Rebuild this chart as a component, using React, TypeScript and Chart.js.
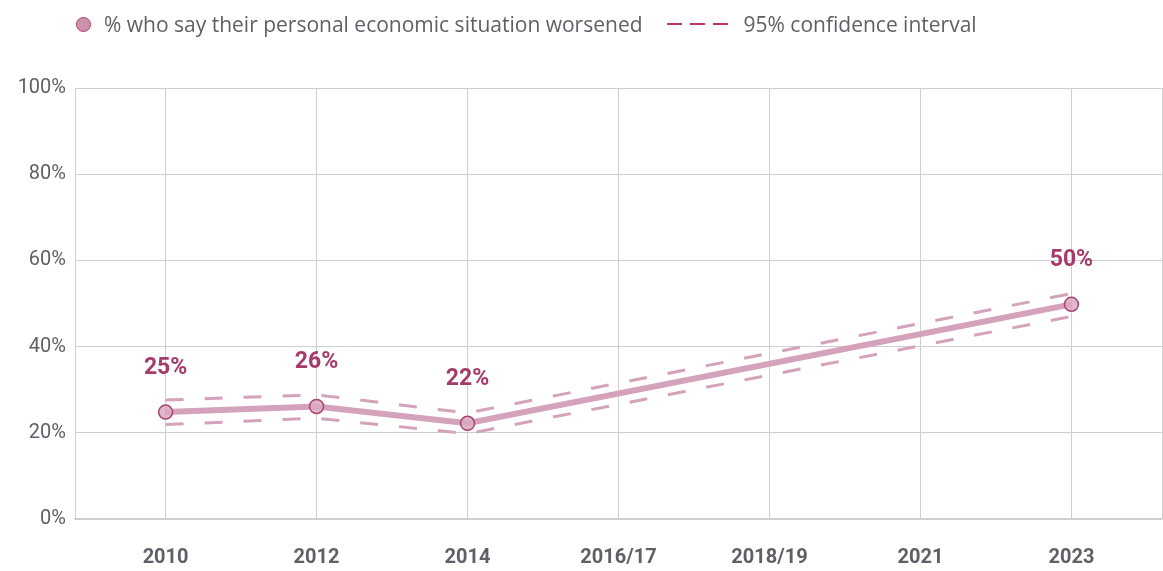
import React, { useEffect, useRef } from "react";
import { Chart, registerables } from "chart.js";

Chart.register(...registerables);

const categories = ["2010", "2012", "2014", "2016/17", "2018/19", "2021", "2023"];
const worsened: (number | null)[] = [24.8, 26.1, 22.2, null, null, null, 49.8];
const ciUpper: (number | null)[] = [27.6, 28.8, 24.6, null, null, null, 52.3];
const ciLower: (number | null)[] = [21.9, 23.4, 19.8, null, null, null, 47.0];
const yTicks = [0, 20, 40, 60, 80, 100];

const LINE = "#d4a2ba";
const DARK = "#a8436f";
const LABEL = "#a63c6b";
const GREY = "#5f5f68";
const GRID = "#cfcfd3";

const toPoints = (arr: (number | null)[]) => arr.map((v, i) => ({ x: i, y: v }));

const valueLabels = {
  id: "valueLabels",
  afterDatasetsDraw(chart: any) {
    const meta = chart.getDatasetMeta(0);
    const ctx = chart.ctx;
    ctx.save();
    ctx.font = "bold 23px Roboto";
    ctx.fillStyle = LABEL;
    ctx.textAlign = "center";
    ctx.textBaseline = "middle";
    meta.data.forEach((el: any, i: number) => {
      const v = worsened[i];
      if (v === null || el.skip) return;
      ctx.fillText(Math.round(v) + "%", el.x, el.y - 44);
    });
    ctx.restore();
  },
};

export default function App() {
  const ref = useRef<HTMLCanvasElement>(null);
  useEffect(() => {
    if (!ref.current) return;
    const chart = new Chart(ref.current, {
      type: "line",
      data: {
        datasets: [
          {
            label: "% who say their personal economic situation worsened",
            data: toPoints(worsened),
            borderColor: LINE,
            borderWidth: 6,
            spanGaps: true,
            pointRadius: 7,
            pointBackgroundColor: "rgba(218,170,194,0.85)",
            pointBorderColor: DARK,
            pointBorderWidth: 1.5,
            tension: 0,
          },
          {
            label: "95% confidence interval (upper)",
            data: toPoints(ciUpper),
            borderColor: LINE,
            borderWidth: 3,
            borderDash: [18, 21],
            spanGaps: true,
            pointRadius: 0,
            tension: 0,
          },
          {
            label: "95% confidence interval (lower)",
            data: toPoints(ciLower),
            borderColor: LINE,
            borderWidth: 3,
            borderDash: [18, 21],
            spanGaps: true,
            pointRadius: 0,
            tension: 0,
          },
        ],
      },
      options: {
        animation: false,
        responsive: false,
        layout: { autoPadding: false, padding: { top: 88, right: 1, left: 0, bottom: 0 } },
        plugins: { legend: { display: false }, tooltip: { enabled: false } },
        scales: {
          x: {
            type: "linear",
            min: -0.6,
            max: 6.6,
            afterBuildTicks: (scale: any) => {
              scale.ticks = [...categories.map((_, i) => ({ value: i })), { value: 6.6 }];
            },
            afterFit: (scale: any) => {
              scale.height = 52;
              scale.paddingLeft = 0;
              scale.paddingRight = 0;
            },
            grid: { color: GRID, lineWidth: 1, drawTicks: false },
            border: { color: GRID, width: 1.5 },
            ticks: {
              autoSkip: false,
              maxRotation: 0,
              padding: 27,
              color: GREY,
              font: { family: "Roboto", size: 20, weight: "bold" },
              callback: (v: any) => {
                const i = Number(v);
                return Number.isInteger(i) && categories[i] !== undefined ? categories[i] : "";
              },
            },
          },
          y: {
            min: 0,
            max: 100,
            afterBuildTicks: (scale: any) => {
              scale.ticks = yTicks.map((v) => ({ value: v }));
            },
            afterFit: (scale: any) => {
              scale.width = 75;
            },
            grid: { color: GRID, lineWidth: 1, drawTicks: false },
            border: { color: GRID, width: 1 },
            ticks: {
              padding: 9,
              color: GREY,
              font: { family: "Roboto", size: 20 },
              callback: (v: any) => v + "%",
            },
          },
        },
      },
      plugins: [valueLabels],
    } as any);
    return () => chart.destroy();
  }, []);

  const dash = { display: "inline-block", width: 15, height: 0, borderTop: `2px solid #c2306a`, marginRight: 8 } as React.CSSProperties;

  return (
    <div style={{ position: "absolute", top: 0, left: 0, width: 1163, height: 571, background: "#fff" }}>
      <canvas ref={ref} width={1163} height={571} style={{ position: "absolute", top: 0, left: 0 }} />
      <div
        style={{
          position: "absolute",
          top: 11,
          left: 76,
          height: 26,
          display: "flex",
          alignItems: "center",
          fontFamily: "'Open Sans'",
          fontSize: 21,
          color: GREY,
          whiteSpace: "nowrap",
        }}
      >
        <span
          style={{
            display: "inline-block",
            width: 13,
            height: 13,
            borderRadius: "50%",
            background: "#cf92ae",
            border: `1.5px solid ${DARK}`,
            marginRight: 13,
          }}
        />
        <span>% who say their personal economic situation worsened</span>
        <span style={{ display: "inline-flex", alignItems: "center", marginLeft: 24, marginRight: 16 }}>
          <span style={dash} />
          <span style={dash} />
          <span style={{ ...dash, marginRight: 0 }} />
        </span>
        <span>95% confidence interval</span>
      </div>
    </div>
  );
}
